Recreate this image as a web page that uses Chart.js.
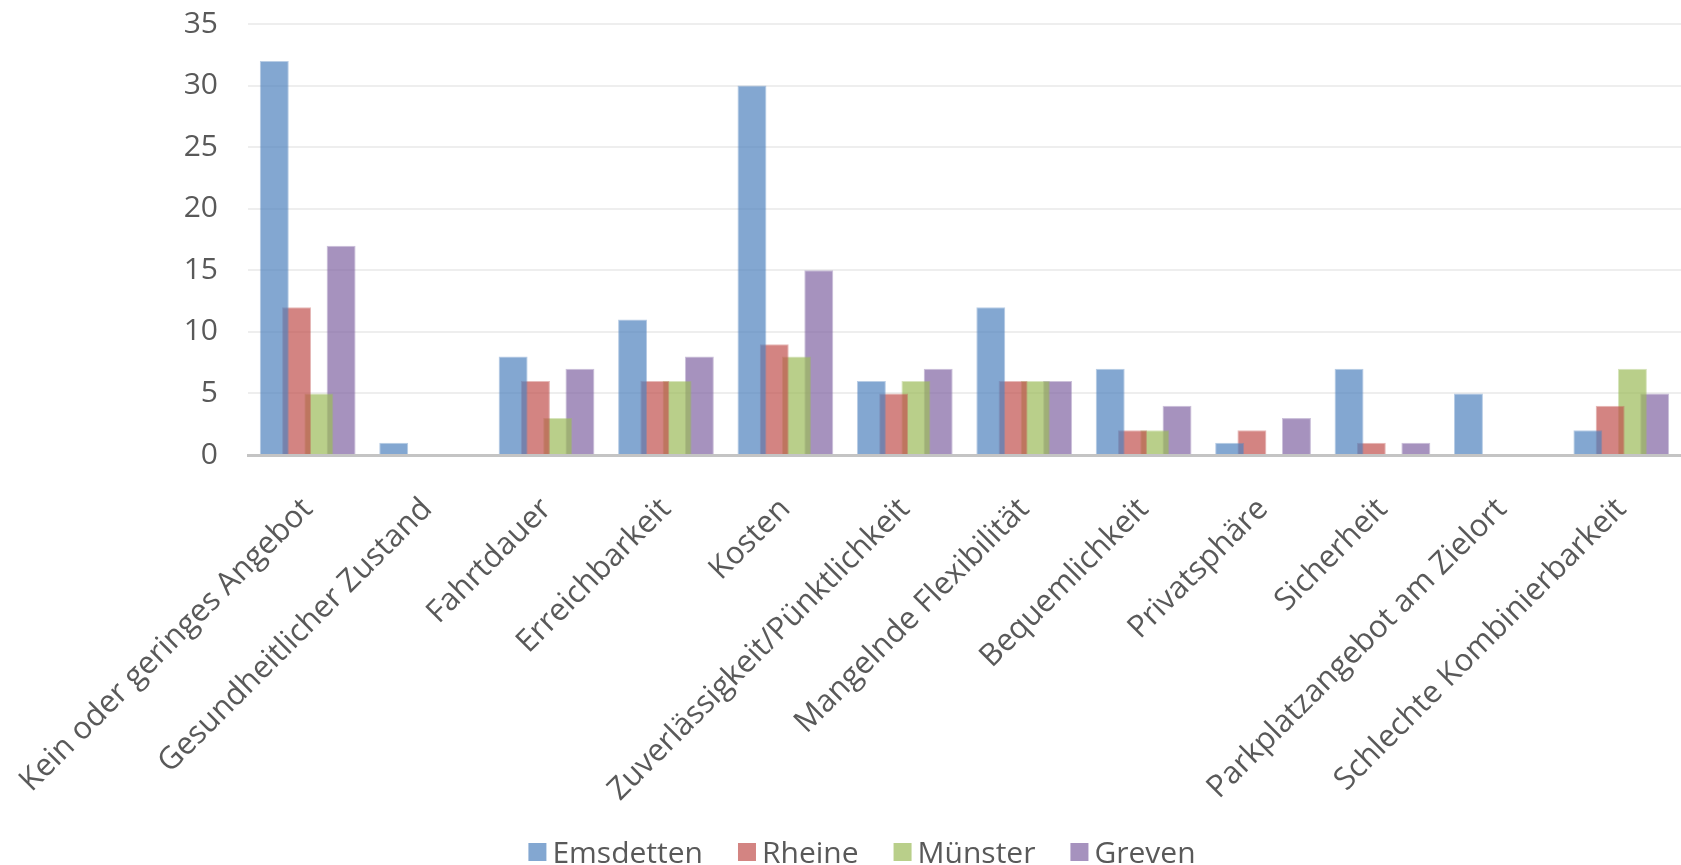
<!DOCTYPE html>
<html lang="de">
<head>
<meta charset="utf-8">
<title>Gründe gegen die Nutzung</title>
<script src="https://cdn.jsdelivr.net/npm/chart.js@4.4.1/dist/chart.umd.min.js"></script>
<style>
  html, body { margin: 0; padding: 0; background: #ffffff; }
  #wrap { position: relative; width: 1681px; height: 865px; }
</style>
</head>
<body>
<div id="wrap"><canvas id="chart"></canvas></div>
<script>
// Categories (reasons) and answer counts per town
const categories = [
  'Kein oder geringes Angebot',
  'Gesundheitlicher Zustand',
  'Fahrtdauer',
  'Erreichbarkeit',
  'Kosten',
  'Zuverlässigkeit/Pünktlichkeit',
  'Mangelnde Flexibilität',
  'Bequemlichkeit',
  'Privatsphäre',
  'Sicherheit',
  'Parkplatzangebot am Zielort',
  'Schlechte Kombinierbarkeit'
];
const seriesNames = ['Emsdetten', 'Rheine', 'Münster', 'Greven'];
const emsdetten = [32, 1, 8, 11, 30, 6, 12, 7, 1, 7, 5, 2];
const rheine    = [12, 0, 6, 6, 9, 5, 6, 2, 2, 1, 0, 4];
const muenster  = [5, 0, 3, 6, 8, 6, 6, 2, 0, 0, 0, 7];
const greven    = [17, 0, 7, 8, 15, 7, 6, 4, 3, 1, 0, 5];
const yTicks = [0, 5, 10, 15, 20, 25, 30, 35];

const baseColors = [[79, 129, 189], [192, 80, 77], [155, 187, 89], [128, 100, 162]];
const rgba = (c, a) => `rgba(${c[0]},${c[1]},${c[2]},${a})`;
const allSeries = [emsdetten, rheine, muenster, greven];

const TEXT = '#595959';
const FONT = "'Open Sans', 'Noto Sans', sans-serif";

// Legend row drawn under the rotated category labels
const bottomLegend = {
  id: 'bottomLegend',
  afterDraw(chart) {
    const ctx = chart.ctx;
    const size = 30;
    const box = 18, gapBoxText = 6, gapItems = 35;
    const baseline = 863;
    ctx.save();
    ctx.font = `${size}px ${FONT}`;
    const items = chart.data.datasets.map((ds, i) => ({
      label: ds.label, color: rgba(baseColors[i], 0.7),
      w: ctx.measureText(ds.label).width
    }));
    const total = items.reduce((s, it) => s + box + gapBoxText + it.w, 0) + gapItems * (items.length - 1);
    let x = 862 - total / 2;
    items.forEach(it => {
      ctx.fillStyle = it.color;
      ctx.fillRect(x, baseline - 20, box, box);
      x += box + gapBoxText;
      ctx.fillStyle = TEXT;
      ctx.textAlign = 'left';
      ctx.textBaseline = 'alphabetic';
      ctx.fillText(it.label, x, baseline);
      x += it.w + gapItems;
    });
    ctx.restore();
  }
};

new Chart(document.getElementById('chart'), {
  type: 'bar',
  data: {
    labels: categories,
    datasets: seriesNames.map((name, i) => ({
      label: name,
      data: allSeries[i],
      backgroundColor: rgba(baseColors[i], 0.7),
      borderColor: rgba(baseColors[i], 0.4),
      borderWidth: 1,
      borderSkipped: 'bottom',
      categoryPercentage: 0.746,
      barPercentage: 1.3
    }))
  },
  options: {
    responsive: true,
    maintainAspectRatio: false,
    animation: false,
    layout: { padding: { top: 24, right: 0, bottom: 0, left: 0 } },
    plugins: {
      legend: { display: false },
      tooltip: { enabled: false }
    },
    scales: {
      x: {
        grid: { display: false, drawTicks: false },
        border: { display: true, color: '#c4c4c4', width: 3 },
        ticks: {
          color: TEXT,
          font: { family: FONT, size: 31 },
          minRotation: 45,
          maxRotation: 45,
          padding: 36,
          autoSkip: false
        },
        afterFit(scale) {
          scale.height = 410;
          scale.paddingLeft = 0;
          scale.paddingRight = 0;
        }
      },
      y: {
        min: 0,
        max: 35,
        grid: { color: '#eeeeee', lineWidth: 2, drawTicks: false },
        border: { display: false },
        afterBuildTicks(scale) { scale.ticks = yTicks.map(v => ({ value: v })); },
        ticks: {
          color: TEXT,
          font: { family: FONT, size: 30 },
          padding: 30
        },
        afterFit(scale) {
          scale.width = 248;
          scale.paddingTop = 0;
          scale.paddingBottom = 0;
        }
      }
    }
  },
  plugins: [bottomLegend]
});
</script>
</body>
</html>
